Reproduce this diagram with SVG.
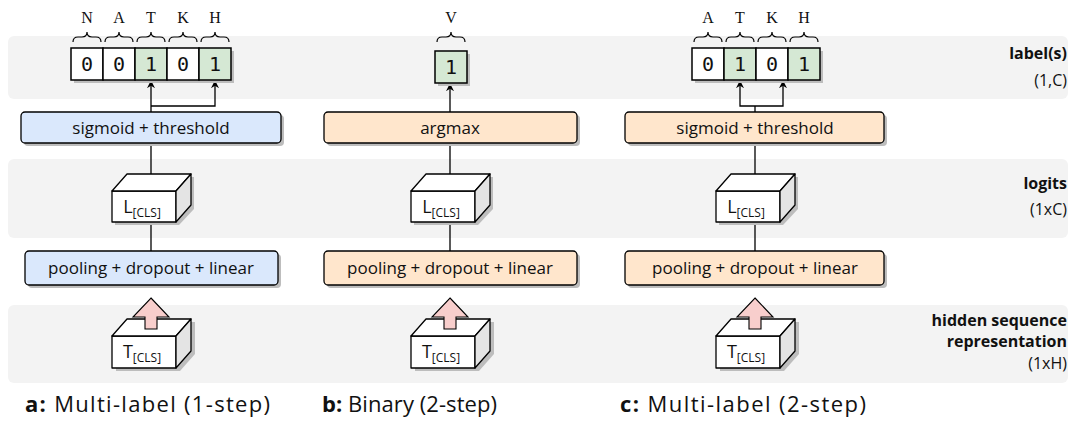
<svg xmlns="http://www.w3.org/2000/svg" width="1073" height="438" viewBox="0 0 1073 438">
  <style>
    .band { fill: #f3f3f3; }
    .shadow { fill: #bdbdbd; }
    .box { stroke: #000; stroke-width: 1.3; }
    .blue { fill: #dae8fc; }
    .peach { fill: #ffe6cc; }
    .green { fill: #d5e8d4; }
    .white { fill: #fff; }
    .cell { stroke: #000; stroke-width: 1.5; }
    .face { fill: #fff; stroke: #000; stroke-width: 1.3; stroke-linejoin: round; }
    .side { fill: #e4e4e4; stroke: #000; stroke-width: 1.3; stroke-linejoin: round; }
    .pink { fill: #f8cecc; stroke: #000; stroke-width: 1.1; stroke-linejoin: miter; }
    .lbl { font-family: "Open Sans", "DejaVu Sans", sans-serif; font-size: 17px; fill: #111; text-anchor: middle; }
    .cube-lbl { font-family: "Open Sans", "DejaVu Sans", sans-serif; font-size: 18px; fill: #111; text-anchor: middle; }
    .sub { font-size: 12px; }
    .mono { font-family: "Liberation Serif", "DejaVu Serif", serif; font-size: 16px; fill: #111; text-anchor: middle; }
    .digit { font-family: "DejaVu Sans Mono", monospace; font-size: 20px; fill: #111; text-anchor: middle; }
    .side-lbl { font-family: "Open Sans", "DejaVu Sans", sans-serif; font-size: 16px; fill: #111; text-anchor: end; }
    .bold { font-weight: bold; font-size: 16px; }
    .cap { font-family: "Open Sans", "DejaVu Sans", sans-serif; font-size: 22px; fill: #111; }
    .brace { fill: none; stroke: #000; stroke-width: 1.2; }
    .conn { fill: none; stroke: #000; stroke-width: 1.3; }
  </style>
  <defs>
    <marker id="arr" viewBox="0 0 10 10" refX="9" refY="5" markerWidth="8" markerHeight="8" markerUnits="userSpaceOnUse" orient="auto">
      <path d="M0,0 L10,5 L0,10 L3,5 Z" fill="#000"/>
    </marker>
    <!-- curly brace spanning 28px, centre at 0 -->
    <path id="brace" class="brace" d="M-14,42 q0,-5 5,-5 L-5,37 q5,0 5,-5 q0,5 5,5 L9,37 q5,0 5,5"/>
  </defs>

  <!-- horizontal bands -->
  <g id="bands">
    <rect class="band" x="8" y="36" width="1060" height="63" rx="6"/>
    <rect class="band" x="8" y="159" width="1060" height="79" rx="6"/>
    <rect class="band" x="8" y="305" width="1060" height="78" rx="6"/>
  </g>

  <!-- row titles -->
  <g id="row-labels">
    <text class="side-lbl bold" x="1067" y="59">label(s)</text>
    <text class="side-lbl" x="1067" y="86">(1,C)</text>
    <text class="side-lbl bold" x="1067" y="189">logits</text>
    <text class="side-lbl" x="1067" y="215">(1xC)</text>
    <text class="side-lbl bold" x="1067" y="326">hidden sequence</text>
    <text class="side-lbl bold" x="1067" y="347">representation</text>
    <text class="side-lbl" x="1067" y="369">(1xH)</text>
  </g>

  <!-- connectors -->
  <g id="connectors">
    <!-- a -->
    <line class="conn" x1="151" y1="112" x2="151" y2="81" marker-end="url(#arr)"/>
    <polyline class="conn" points="151,106 215,106 215,81" marker-end="url(#arr)"/>
    <line class="conn" x1="151" y1="143" x2="151" y2="178"/>
    <line class="conn" x1="151" y1="222" x2="151" y2="251"/>
    <!-- b -->
    <line class="conn" x1="450" y1="112" x2="450" y2="84" marker-end="url(#arr)"/>
    <line class="conn" x1="450" y1="143" x2="450" y2="178"/>
    <line class="conn" x1="450" y1="222" x2="450" y2="251"/>
    <!-- c -->
    <line class="conn" x1="755" y1="112" x2="755" y2="106"/>
    <polyline class="conn" points="755,106 740,106 740,81" marker-end="url(#arr)"/>
    <polyline class="conn" points="755,106 783,106 783,81" marker-end="url(#arr)"/>
    <line class="conn" x1="755" y1="143" x2="755" y2="178"/>
    <line class="conn" x1="755" y1="222" x2="755" y2="251"/>
  </g>

  <!-- panel a: label vector -->
  <g id="labels-a">
    <text class="mono" x="87" y="23">N</text>
    <text class="mono" x="119" y="23">A</text>
    <text class="mono" x="151" y="23">T</text>
    <text class="mono" x="183" y="23">K</text>
    <text class="mono" x="215" y="23">H</text>
    <use href="#brace" x="87"/><use href="#brace" x="119"/><use href="#brace" x="151"/><use href="#brace" x="183"/><use href="#brace" x="215"/>
    <rect class="shadow" x="74" y="51" width="160" height="32"/>
    <rect class="cell white" x="71" y="48" width="32" height="32"/>
    <rect class="cell white" x="103" y="48" width="32" height="32"/>
    <rect class="cell green" x="135" y="48" width="32" height="32"/>
    <rect class="cell white" x="167" y="48" width="32" height="32"/>
    <rect class="cell green" x="199" y="48" width="32" height="32"/>
    <text class="digit" x="87" y="71">0</text>
    <text class="digit" x="119" y="71">0</text>
    <text class="digit" x="151" y="71">1</text>
    <text class="digit" x="183" y="71">0</text>
    <text class="digit" x="215" y="71">1</text>
  </g>

  <g id="sigmoid-a">
    <rect class="shadow" x="24" y="115" width="260" height="31" rx="4"/>
    <rect class="box blue" x="21" y="112" width="260" height="31" rx="4"/>
    <text class="lbl" x="151" y="134">sigmoid + threshold</text>
  </g>

  <g id="logits-a">
    <polygon class="shadow" points="115,194 130,177 194,177 194,209 179,225 115,225"/>
    <rect class="face" x="112" y="191" width="64" height="31"/>
    <polygon class="face" points="112,191 127,174 191,174 176,191"/>
    <polygon class="side" points="176,191 191,174 191,205 176,222"/>
    <text class="cube-lbl" x="142" y="213">L<tspan class="sub" dy="4">[CLS]</tspan></text>
  </g>

  <g id="pool-a">
    <rect class="shadow" x="28" y="254" width="253" height="34" rx="4"/>
    <rect class="box blue" x="25" y="251" width="253" height="34" rx="4"/>
    <text class="lbl" x="151" y="274">pooling + dropout + linear</text>
  </g>

  <g id="hidden-a">
    <polygon class="shadow" points="116,339 131,322 195,322 195,354 180,371 116,371"/>
    <rect class="face" x="112" y="336" width="64" height="32"/>
    <polygon class="face" points="112,336 127,319 191,319 176,336"/>
    <polygon class="side" points="176,336 191,319 191,351 176,368"/>
    <polygon class="pink" points="151,298 169,317 157,317 157,329 145,329 145,317 133,317"/>
    <text class="cube-lbl" x="142" y="358">T<tspan class="sub" dy="4">[CLS]</tspan></text>
  </g>

  <!-- panel b -->
  <g id="labels-b">
    <text class="mono" x="451" y="23">V</text>
    <use href="#brace" x="451"/>
    <rect class="shadow" x="438" y="54" width="32" height="32"/>
    <rect class="cell green" x="435" y="51" width="32" height="32"/>
    <text class="digit" x="451" y="74">1</text>
  </g>

  <g id="argmax-b">
    <rect class="shadow" x="327" y="115" width="253" height="31" rx="4"/>
    <rect class="box peach" x="324" y="112" width="253" height="31" rx="4"/>
    <text class="lbl" x="450" y="134">argmax</text>
  </g>

  <g id="logits-b">
    <polygon class="shadow" points="414,194 429,177 493,177 493,209 478,225 414,225"/>
    <rect class="face" x="411" y="191" width="64" height="31"/>
    <polygon class="face" points="411,191 426,174 490,174 475,191"/>
    <polygon class="side" points="475,191 490,174 490,205 475,222"/>
    <text class="cube-lbl" x="441" y="213">L<tspan class="sub" dy="4">[CLS]</tspan></text>
  </g>

  <g id="pool-b">
    <rect class="shadow" x="327" y="254" width="253" height="34" rx="4"/>
    <rect class="box peach" x="324" y="251" width="253" height="34" rx="4"/>
    <text class="lbl" x="450" y="274">pooling + dropout + linear</text>
  </g>

  <g id="hidden-b">
    <polygon class="shadow" points="415,339 430,322 494,322 494,354 479,371 415,371"/>
    <rect class="face" x="411" y="336" width="64" height="32"/>
    <polygon class="face" points="411,336 426,319 490,319 475,336"/>
    <polygon class="side" points="475,336 490,319 490,351 475,368"/>
    <polygon class="pink" points="450,298 468,317 456,317 456,329 444,329 444,317 432,317"/>
    <text class="cube-lbl" x="441" y="358">T<tspan class="sub" dy="4">[CLS]</tspan></text>
  </g>

  <!-- panel c -->
  <g id="labels-c">
    <text class="mono" x="708" y="23">A</text>
    <text class="mono" x="740" y="23">T</text>
    <text class="mono" x="772" y="23">K</text>
    <text class="mono" x="804" y="23">H</text>
    <use href="#brace" x="708"/><use href="#brace" x="740"/><use href="#brace" x="772"/><use href="#brace" x="804"/>
    <rect class="shadow" x="695" y="51" width="128" height="32"/>
    <rect class="cell white" x="692" y="48" width="32" height="32"/>
    <rect class="cell green" x="724" y="48" width="32" height="32"/>
    <rect class="cell white" x="756" y="48" width="32" height="32"/>
    <rect class="cell green" x="788" y="48" width="32" height="32"/>
    <text class="digit" x="708" y="71">0</text>
    <text class="digit" x="740" y="71">1</text>
    <text class="digit" x="772" y="71">0</text>
    <text class="digit" x="804" y="71">1</text>
  </g>

  <g id="sigmoid-c">
    <rect class="shadow" x="628" y="115" width="259" height="31" rx="4"/>
    <rect class="box peach" x="625" y="112" width="259" height="31" rx="4"/>
    <text class="lbl" x="755" y="134">sigmoid + threshold</text>
  </g>

  <g id="logits-c">
    <polygon class="shadow" points="719,194 734,177 798,177 798,209 783,225 719,225"/>
    <rect class="face" x="716" y="191" width="64" height="31"/>
    <polygon class="face" points="716,191 731,174 795,174 780,191"/>
    <polygon class="side" points="780,191 795,174 795,205 780,222"/>
    <text class="cube-lbl" x="746" y="213">L<tspan class="sub" dy="4">[CLS]</tspan></text>
  </g>

  <g id="pool-c">
    <rect class="shadow" x="628" y="254" width="259" height="34" rx="4"/>
    <rect class="box peach" x="625" y="251" width="259" height="34" rx="4"/>
    <text class="lbl" x="755" y="274">pooling + dropout + linear</text>
  </g>

  <g id="hidden-c">
    <polygon class="shadow" points="720,339 735,322 799,322 799,354 784,371 720,371"/>
    <rect class="face" x="716" y="336" width="64" height="32"/>
    <polygon class="face" points="716,336 731,319 795,319 780,336"/>
    <polygon class="side" points="780,336 795,319 795,351 780,368"/>
    <polygon class="pink" points="755,298 773,317 761,317 761,329 749,329 749,317 737,317"/>
    <text class="cube-lbl" x="746" y="358">T<tspan class="sub" dy="4">[CLS]</tspan></text>
  </g>

  <!-- captions -->
  <g id="captions">
    <text class="cap" x="25" y="412" textLength="245" lengthAdjust="spacing"><tspan font-weight="bold">a:</tspan> Multi-label (1-step)</text>
    <text class="cap" x="322" y="412" textLength="175" lengthAdjust="spacing"><tspan font-weight="bold">b:</tspan> Binary (2-step)</text>
    <text class="cap" x="620" y="412" textLength="246" lengthAdjust="spacing"><tspan font-weight="bold">c:</tspan> Multi-label (2-step)</text>
  </g>
</svg>
